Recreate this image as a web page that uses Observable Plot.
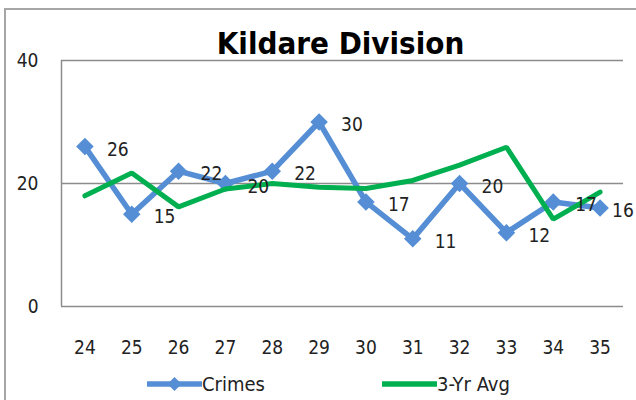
<!DOCTYPE html>
<html>
<head>
<meta charset="utf-8">
<script src="https://cdn.jsdelivr.net/npm/d3@7"></script>
<script src="https://cdn.jsdelivr.net/npm/@observablehq/plot@0.6"></script>
<style>
  html, body { margin: 0; padding: 0; background: #fff; overflow: hidden; }
  #wrap { position: relative; width: 636px; height: 400px; overflow: hidden; background: #fff; }
  #frame { position: absolute; left: 4px; top: 8px; width: 700px; height: 500px;
           border-left: 2px solid #a6a6a6; border-top: 2px solid #a6a6a6; }
  #chart { position: absolute; left: 0; top: 0; }
  .leg { position: absolute; top: 364px; height: 40px; display: flex; align-items: center;
         font-family: "DejaVu Sans Condensed", "Liberation Sans Narrow", "DejaVu Sans", sans-serif;
         font-stretch: condensed; font-size: 20px; color: #222; }
  .leg svg { display: block; }
</style>
</head>
<body>
<div id="wrap">
  <div id="frame"></div>
  <div id="chart"></div>
  <div class="leg" id="leg1" style="left:147px"></div>
  <div class="leg" id="leg2" style="left:382px"></div>
</div>
<script>
const title = "Kildare Division";
const years = [24, 25, 26, 27, 28, 29, 30, 31, 32, 33, 34, 35];
const crimes = [26, 15, 22, 20, 22, 30, 17, 11, 20, 12, 17, 16];
const avg3 = [18.0, 21.7, 16.2, 19.1, 20.0, 19.4, 19.2, 20.5, 23.0, 25.9, 14.2, 18.6];
const yTicks = [0, 20, 40];
const seriesNames = ["Crimes", "3-Yr Avg"];
const colors = ["#558ed5", "#00b050"];

const data = years.map((yr, i) => ({year: yr, crimes: crimes[i], avg: avg3[i]}));
const font = "'DejaVu Sans Condensed', 'Liberation Sans Narrow', 'DejaVu Sans', sans-serif";
const gridStyle = {stroke: "#8c8c8c", strokeOpacity: 1, strokeWidth: 1.5};
const lastIdx = data.length - 1;

const chart = Plot.plot({
  width: 636,
  height: 364,
  marginLeft: 61,
  marginRight: 13,
  marginTop: 60,
  marginBottom: 58,
  style: {fontFamily: font, fontStretch: "condensed", background: "transparent", color: "#222"},
  x: {type: "linear", domain: [years[0] - 0.5, years[lastIdx] + 0.5], ticks: years,
      tickFormat: d => String(d), tickSize: 0, tickPadding: 34, label: null},
  y: {domain: [0, 40], ticks: yTicks, tickSize: 0, tickPadding: 23, label: null},
  marks: [
    Plot.gridY(yTicks.filter(t => t > 0), gridStyle),
    Plot.ruleY([0], gridStyle),
    Plot.ruleX([years[0] - 0.5], {y1: 0, y2: 40, ...gridStyle}),
    Plot.axisX({ticks: years, tickFormat: d => String(d), tickSize: 0, tickPadding: 34, fontSize: 19, fill: "#222", label: null}),
    Plot.axisY({ticks: yTicks, tickSize: 0, tickPadding: 23, fontSize: 19, fill: "#222", label: null}),
    Plot.line(data, {x: "year", y: "crimes", stroke: colors[0], strokeWidth: 5.5, strokeLinejoin: "miter"}),
    Plot.dot(data, {x: "year", y: "crimes", symbol: "square", rotate: 45, r: 7, fill: colors[0], stroke: "none"}),
    Plot.line(data, {x: "year", y: "avg", stroke: colors[1], strokeWidth: 5, strokeLinejoin: "miter"}),
    Plot.text(data.slice(0, lastIdx), {x: "year", y: "crimes", text: d => String(d.crimes), dx: 22, dy: 3,
                     textAnchor: "start", fontSize: 19, fill: "#222"}),
    Plot.text(data.slice(lastIdx), {x: "year", y: "crimes", text: d => String(d.crimes), dx: 12, dy: 3,
                     textAnchor: "start", fontSize: 19, fill: "#222"}),
    Plot.text([title], {frameAnchor: "top", lineAnchor: "middle", dy: -16, dx: -2,
                        fontSize: 31, fontWeight: "bold", fill: "#000"})
  ]
});
document.getElementById("chart").appendChild(chart);

// legend
function swatch(color, withMarker) {
  const w = 55, h = 20;
  const svg = d3.create("svg").attr("width", w).attr("height", h);
  svg.append("line").attr("x1", 0).attr("x2", w).attr("y1", h / 2).attr("y2", h / 2)
     .attr("stroke", color).attr("stroke-width", 5.5);
  if (withMarker) {
    svg.append("rect").attr("x", -5).attr("y", -5).attr("width", 10).attr("height", 10)
       .attr("fill", color).attr("transform", `translate(${w / 2},${h / 2}) rotate(45)`);
  }
  return svg.node();
}
const leg1 = document.getElementById("leg1");
leg1.appendChild(swatch(colors[0], true));
leg1.appendChild(Object.assign(document.createElement("span"), {textContent: seriesNames[0]}));
const leg2 = document.getElementById("leg2");
leg2.appendChild(swatch(colors[1], false));
leg2.appendChild(Object.assign(document.createElement("span"), {textContent: seriesNames[1]}));
</script>
</body>
</html>
